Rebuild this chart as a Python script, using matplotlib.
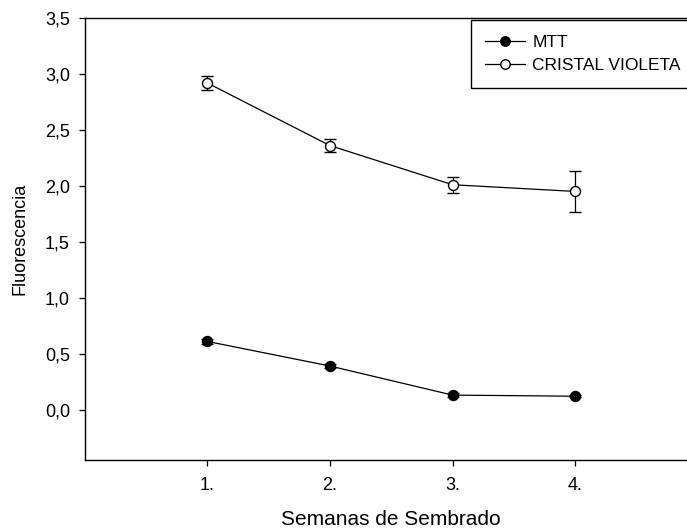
import matplotlib
matplotlib.use("Agg")
import matplotlib.pyplot as plt
from matplotlib.lines import Line2D

plt.rcParams['font.family'] = ['Liberation Sans', 'DejaVu Sans']

weeks = [1, 2, 3, 4]
week_labels = ["1.", "2.", "3.", "4."]
mtt = [0.61, 0.39, 0.13, 0.12]
mtt_err = [0.02, 0.02, 0.015, 0.01]
cv = [2.92, 2.36, 2.01, 1.95]
cv_err = [0.06, 0.055, 0.07, 0.18]
yticks = [0.0, 0.5, 1.0, 1.5, 2.0, 2.5, 3.0, 3.5]
ytick_labels = ["0,0", "0,5", "1,0", "1,5", "2,0", "2,5", "3,0", "3,5"]

W, H = 687, 531
fig = plt.figure(figsize=(W / 100, H / 100), dpi=100)
left, right, top, bottom = 84.5, 698, 18, 460
ax = fig.add_axes([left / W, 1 - bottom / H, (right - left) / W, (bottom - top) / H])

ax.errorbar(weeks, mtt, yerr=mtt_err, color='black', marker='o', markersize=7.2,
            markerfacecolor='black', markeredgecolor='black', linewidth=0.9,
            elinewidth=0.9, capsize=4.5, capthick=0.9, zorder=3)
ax.errorbar(weeks, cv, yerr=cv_err, color='black', marker='o', markersize=7.2,
            markerfacecolor='white', markeredgecolor='black', markeredgewidth=1.0,
            linewidth=0.9, elinewidth=0.9, capsize=4.5, capthick=0.9, zorder=3)

ax.set_xlim(0, 5)
ax.set_ylim(-0.45, 3.5)
ax.set_xticks(weeks)
ax.set_xticklabels(week_labels, fontsize=13)
ax.set_yticks(yticks)
ax.set_yticklabels(ytick_labels, fontsize=13)
ax.tick_params(axis='both', direction='out', length=4.5, width=0.9)
ax.tick_params(axis='y', pad=6)
ax.tick_params(axis='x', pad=8)
for s in ax.spines.values():
    s.set_linewidth(1.0)

ax.set_xlabel('Semanas de Sembrado', fontsize=15, labelpad=11)
ax.set_ylabel('Fluorescencia', fontsize=13, labelpad=12)

handles = [
    Line2D([], [], color='black', marker='o', markersize=6.8, markerfacecolor='black',
           linewidth=0.9),
    Line2D([], [], color='black', marker='o', markersize=6.8, markerfacecolor='white',
           linewidth=0.9),
]
leg = fig.legend(handles, ['MTT', 'CRISTAL VIOLETA'], loc='upper left',
                 bbox_to_anchor=(470.7 / W, 1 - 20 / H),
                 bbox_transform=fig.transFigure, frameon=True, fancybox=False,
                 framealpha=1, edgecolor='black', fontsize=12.5,
                 handlelength=2.25, handletextpad=0.45, borderpad=0.85,
                 labelspacing=0.45, borderaxespad=0)
leg.get_frame().set_linewidth(1.0)

fig.savefig('out.png', dpi=100)
